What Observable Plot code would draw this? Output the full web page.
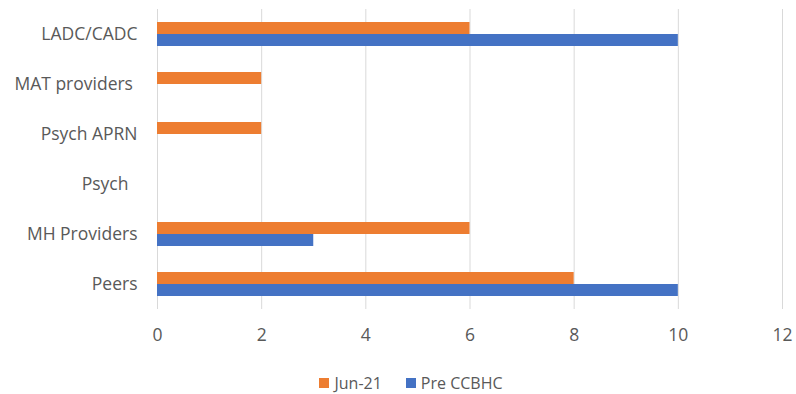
<!DOCTYPE html>
<html>
<head>
<meta charset="utf-8">
<script src="https://cdn.jsdelivr.net/npm/d3@7"></script>
<script src="https://cdn.jsdelivr.net/npm/@observablehq/plot@0.6"></script>
<style>
  html, body { margin: 0; padding: 0; background: #fff; }
  body { width: 796px; height: 394px; overflow: hidden; font-family: "Open Sans", sans-serif; }
  #chart svg text { white-space: pre; }
  #legend { display: flex; justify-content: center; align-items: center; padding-left: 26px; margin-top: 22px; font-size: 16px; color: #595959; }
  #legend .item { display: flex; align-items: center; margin: 0 12px; }
  #legend .sw { width: 10px; height: 10px; margin-right: 5px; }
</style>
</head>
<body>
<div id="chart"></div>
<div id="legend"></div>
<script>
const categories = ["LADC/CADC", "MAT providers ", "Psych APRN", "Psych  ", "MH Providers", "Peers"];
const seriesNames = ["Jun-21", "Pre CCBHC"];
const jun21 = [6, 2, 2, 0, 6, 8];
const preCCBHC = [10, 0, 0, 0, 3, 10];
const colors = ["#ED7D31", "#4472C4"];
const xTicks = [0, 2, 4, 6, 8, 10, 12];

const seriesValues = [jun21, preCCBHC];
const data = categories.flatMap((c, i) =>
  seriesNames.map((s, j) => ({category: c, series: s, value: seriesValues[j][i]}))
);

const textColor = "#595959";
const chart = Plot.plot({
  width: 796,
  height: 350,
  marginLeft: 157,
  marginRight: 14,
  marginTop: 7,
  marginBottom: 39,
  style: {fontFamily: "'Open Sans', sans-serif", fontSize: "17.5px", color: textColor, background: "#fff"},
  x: {domain: [0, 12], ticks: xTicks},
  y: {domain: seriesNames, axis: null, paddingInner: 0, paddingOuter: 1.03},
  fy: {domain: categories, paddingInner: 0, paddingOuter: 0, label: null},
  color: {domain: seriesNames, range: colors},
  marks: [
    Plot.gridX(xTicks, {stroke: "#d9d9d9", strokeOpacity: 1, strokeWidth: 1}),
    Plot.barX(data, {x: "value", y: "series", fy: "category", fill: "series"}),
    Plot.axisX({ticks: xTicks, tickSize: 0, tickPadding: 19, label: null, fill: textColor}),
    Plot.axisFy({anchor: "left", tickSize: 0, tickPadding: 20, label: null, fill: textColor})
  ]
});
document.getElementById("chart").appendChild(chart);

const legend = document.getElementById("legend");
seriesNames.forEach((s, i) => {
  const item = document.createElement("div");
  item.className = "item";
  const sw = document.createElement("span");
  sw.className = "sw";
  sw.style.background = colors[i];
  const t = document.createElement("span");
  t.textContent = s;
  item.appendChild(sw);
  item.appendChild(t);
  legend.appendChild(item);
});
</script>
</body>
</html>
